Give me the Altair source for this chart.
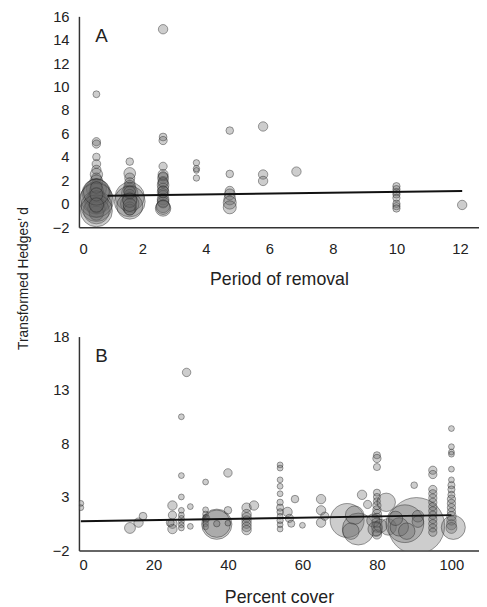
import altair as alt
import pandas as pd

# ---------------- Panel A: Period of removal ----------------
A_cols = [0.55, 1.6, 2.65, 3.7, 4.75, 5.8, 6.85, 10.0, 12.07]
A_y = [
    [9.35, 5.3, 5.1, 4.0, 3.4, 2.9, 2.5, 2.2, 1.9, 1.6, 1.3, 1.1, 0.9, 0.7, 0.5, 0.3, 0.1, 0.0,
     -0.2, -0.4, -0.6, -0.8, 0.6, 0.2, -0.3, 0.3, -0.6, 1.0, 1.4, 0.8, -0.1],
    [3.6, 2.6, 2.2, 1.8, 1.5, 1.2, 0.9, 0.6, 0.4, 0.2, 0.0, -0.2, -0.4, -0.5, 0.8, 1.0, 0.3, -0.1],
    [14.9, 5.7, 5.4, 3.2, 2.5, 2.2, 1.9, 1.6, 1.3, 1.0, 0.7, 0.4, 0.1, -0.2, -0.4, 2.35, 0.9,
     1.8, 1.1, 0.2, -0.3],
    [3.5, 3.0, 2.85, 2.2],
    [6.25, 2.55, 1.1, 0.8, 0.4, 0.1, -0.3],
    [6.6, 2.5, 1.95],
    [2.75],
    [1.5, 1.25, 1.0, 0.8, 0.5, 0.0, -0.2, -0.4],
    [-0.1],
]
A_w = [
    [1.4, 2.0, 2.0, 1.7, 2.2, 2.5, 4.5, 3, 5, 3.5, 12, 6, 24, 8, 30, 10, 16, 7,
     28, 9, 20, 6, 4, 3, 4, 34, 30, 20, 4, 5, 6],
    [1.7, 4, 3, 3, 4, 5, 8, 25, 6, 28, 10, 20, 5, 3.5, 3, 4, 6, 5],
    [2.6, 1.8, 2.0, 2.0, 3, 3.5, 3, 4, 3.5, 4, 3, 4, 3.5, 5, 7, 2.5, 2.5,
     3, 3, 4, 6],
    [1.2, 1.2, 1.0, 1.2],
    [1.7, 1.7, 2.5, 3.5, 4, 5, 5],
    [2.6, 2.6, 2.6],
    [2.6],
    [1.6, 1.6, 1.6, 1.6, 1.6, 1.6, 1.6, 1.6],
    [2.6],
]
A_fit_x = [0.9, 12.07]
A_fit_y = [0.69, 1.1]

# ---------------- Panel B: Percent cover ----------------
B_x = [0.5, 0.5, 13.7, 16, 17.2,
       25.1, 25.1, 25.1, 25.1, 24.5,
       27.5, 27.5, 27.5, 27.5, 27.5, 27.5, 27.5, 27.5, 27.5,
       28.9, 29.9, 29.9,
       34, 34, 34, 34, 34, 34, 34, 34.2,
       37, 37, 37,
       40, 40, 40,
       45, 45, 45, 45, 45, 45, 45, 47,
       54, 54, 54, 54, 54, 54, 54, 54, 54, 54, 54, 54,
       56, 56.5, 58, 57, 60,
       65, 65, 65, 66,
       72, 75, 74, 73, 76, 77.5,
       80, 80, 80, 80, 80, 80, 80, 80, 80, 80, 80, 80, 80, 80, 79, 81, 79.5, 82.5, 83,
       90.6, 87.5, 86, 88, 90, 91, 91, 85,
       95, 95, 95, 95, 95, 95, 95, 95, 95, 95, 95, 95, 95,
       100, 100, 100, 100, 100, 100, 100, 100, 100, 100, 100, 100, 100, 100, 100, 100, 100, 100.5]
B_y = [2.4, 2.0, 0.1, 0.6, 1.2,
       2.2, 1.3, 0.5, 0.0, 0.6,
       10.5, 5.0, 3.0, 1.75, 1.3, 1.0, 0.7, 0.4, 0.1,
       14.65, 2.1, 0.25,
       4.4, 1.8, 1.4, 1.1, 0.8, 0.5, 0.2, 1.0,
       0.45, 0.5, 0.5,
       5.25, 1.75, 0.55,
       2.0, 1.4, 1.1, 0.8, 0.5, 0.2, -0.1, 2.2,
       6.0, 5.7, 4.6, 4.0, 3.3, 2.5, 2.0, 1.6, 1.2, 0.8, 0.4, 0.0,
       1.6, 1.0, 2.8, 0.5, 0.35,
       2.8, 1.75, 0.6, 1.2,
       0.8, 0.0, 1.3, -0.2, 3.2, 2.3,
       6.9, 6.6, 5.8, 3.4, 3.0, 2.6, 2.2, 1.8, 1.4, 1.0, 0.6, 0.2, -0.2, -0.5, 0.8, 0.3, 0.0, 2.5, 0.2,
       0.3, 0.5, 0.2, -0.2, 4.1, 1.2, 0.7, 1.0,
       5.5, 5.1, 3.7, 3.3, 2.9, 2.5, 2.1, 1.7, 1.3, 0.9, 0.5, 0.1, -0.3,
       9.4, 7.7, 7.2, 7.0, 5.6, 4.6, 4.1, 3.7, 3.2, 2.8, 2.4, 2.0, 1.6, 1.2, 0.8, 0.4, 0.1, 0.15]
B_w = [1.0, 1.0, 3.5, 2.6, 1.8,
       2.6, 2.0, 2.6, 2.6, 1.8,
       1.0, 1.0, 1.0, 1.0, 1.0, 1.0, 1.0, 1.0, 1.0,
       2.1, 1.0, 1.0,
       1.0, 1.0, 1.0, 1.0, 1.0, 1.0, 1.0, 1.5,
       27, 22, 1.2,
       2.1, 1.7, 1.0,
       2.6, 2.6, 2.6, 2.6, 2.6, 2.6, 2.6, 2.6,
       1.0, 1.0, 1.0, 1.0, 1.0, 1.2, 1.5, 1.2, 1.0, 1.2, 1.0, 1.0,
       2.6, 2.0, 1.7, 1.5, 1.0,
       2.6, 2.6, 2.6, 2.0,
       34, 30, 10, 8, 2.6, 2.0,
       1.5, 2.0, 1.5, 1.5, 1.5, 1.5, 2, 2, 2.6, 3, 3, 3.5, 3, 2.6, 5, 5, 6, 10, 8,
       94, 42, 10, 8, 1.3, 4, 4, 6,
       2.0, 2.0, 2.0, 2.0, 2.0, 2.0, 2.0, 2.0, 2.0, 2.0, 2.0, 2.0, 2.0,
       1.0, 1.0, 1.0, 1.0, 1.0, 1.0, 1.5, 1.5, 1.5, 2, 2, 2, 2, 2.6, 2.6, 3, 3.5, 17]
B_fit_x = [0.5, 100]
B_fit_y = [0.72, 1.3]

Y_TITLE = "Transformed Hedges\u2019 d"
FONT = "Liberation Sans"

rows = []
for cx, ys, ws in zip(A_cols, A_y, A_w):
    for yy, ww in zip(ys, ws):
        rows.append({"x": cx, "y": yy, "w": ww})
dfA = pd.DataFrame(rows)
dfB = pd.DataFrame({"x": B_x, "y": B_y, "w": B_w})
fitA = pd.DataFrame({"x": A_fit_x, "y": A_fit_y})
fitB = pd.DataFrame({"x": B_fit_x, "y": B_fit_y})

size_scale = alt.Scale(domain=[0, 100], range=[0, 3500])


def panel(df, fit, xdom, xvals, xtitle, ydom, yvals, letter, h, lpad, tpad):
    xs = alt.Scale(domain=xdom, nice=False, zero=False)
    ys = alt.Scale(domain=ydom, nice=False, zero=False)
    xaxis = alt.Axis(values=xvals, title=xtitle, labelPadding=lpad, titlePadding=tpad,
                     labelOverlap=False)
    yaxis = alt.Axis(values=yvals, title=None, labelPadding=10, labelOverlap=False,
                     tickCount=len(yvals))
    pts = alt.Chart(df).mark_circle(
        fill="#666666", fillOpacity=0.33, stroke="#222222", strokeOpacity=0.55,
        strokeWidth=0.8, clip=True
    ).encode(
        x=alt.X("x:Q", scale=xs, axis=xaxis),
        y=alt.Y("y:Q", scale=ys, axis=yaxis),
        size=alt.Size("w:Q", scale=size_scale, legend=None),
    )
    line = alt.Chart(fit).mark_line(color="#111111", strokeWidth=2).encode(
        x=alt.X("x:Q", scale=xs, axis=xaxis), y=alt.Y("y:Q", scale=ys, axis=yaxis)
    )
    lab = alt.Chart(pd.DataFrame({"t": [letter]})).mark_text(
        font=FONT, fontSize=19, color="#222222", align="center", baseline="middle"
    ).encode(text="t:N", x=alt.value(23), y=alt.value(20))
    return alt.layer(pts, line, lab).properties(width=406, height=h)


pA = panel(dfA, fitA, [0, 12.6], [0, 2, 4, 6, 8, 10, 12], "Period of removal",
           [-2, 16], [-2, 0, 2, 4, 6, 8, 10, 12, 14, 16], "A", 214, 15, 14)
pB = panel(dfB, fitB, [0, 107.4], [0, 20, 40, 60, 80, 100], "Percent cover",
           [-2, 18], [-2, 3, 8, 13, 18], "B", 217, 7, 17)

ytitle = alt.Chart(pd.DataFrame({"t": [Y_TITLE]})).mark_text(
    font=FONT, fontSize=14, color="#222222", angle=270, align="center", baseline="middle"
).encode(text="t:N", x=alt.value(16), y=alt.value(266)).properties(width=24, height=420)

chart = alt.hconcat(
    ytitle,
    alt.vconcat(pA, pB, spacing=42),
    spacing=20,
).properties(
    padding={"left": 0, "top": -3, "right": 0, "bottom": 0}
).configure_view(stroke=None).configure_axis(
    grid=False, ticks=False, domainColor="#333333", domainWidth=1.5,
    labelFont=FONT, labelFontSize=15, labelColor="#222222", labelOverlap=False,
    titleFont=FONT, titleFontSize=18, titleFontWeight="normal", titleColor="#222222",
)

chart.save("out.html", embed_options={"renderer": "svg", "actions": False})
